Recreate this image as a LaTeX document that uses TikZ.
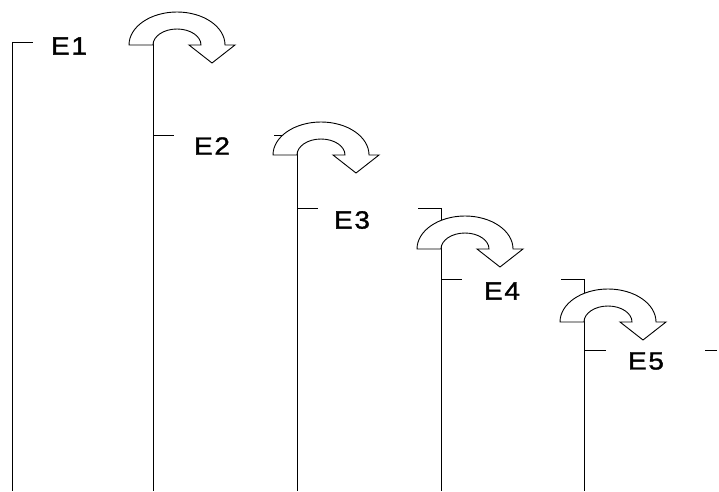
\documentclass[tikz,border=0pt]{standalone}
\usepackage{fontspec}
\setmainfont{Liberation Sans}
\newfontfamily\steplabelfont[FakeBold=1.3]{Liberation Sans}
\begin{document}
\begin{tikzpicture}[x=1pt,y=1pt,
  stair/.style={line width=0.9pt, draw=black},
  arrowbody/.style={draw=black, line width=0.9pt, fill=white, line join=miter},
  lbl/.style={font=\steplabelfont\fontsize{25}{25}\selectfont, inner sep=0pt, xscale=1.12},
  pics/turnarrow/.style={code={
    \filldraw[arrowbody] (-48,0) -- (-24,0)
      arc[start angle=180, end angle=0, x radius=24pt, y radius=16pt]
      -- (12,0) -- (35,-18) -- (58,0) -- (48,0)
      arc[start angle=0, end angle=180, x radius=48pt, y radius=33pt]
      -- cycle;
  }}]
\useasboundingbox (0,0) rectangle (719,491);

% start and end of each step
\coordinate (s1) at (12,449);  \coordinate (e1) at (153,449);
\coordinate (s2) at (153,356); \coordinate (e2) at (297,356);
\coordinate (s3) at (297,283); \coordinate (e3) at (441,283);
\coordinate (s4) at (441,212); \coordinate (e4) at (584,212);
\coordinate (s5) at (584,141); \coordinate (e5) at (717,141);
% foot of each riser
\coordinate (b1) at (12,0);
\coordinate (b2) at (153,0);
\coordinate (b3) at (297,0);
\coordinate (b4) at (441,0);
\coordinate (b5) at (584,0);

% risers and step ticks
\draw[stair] (s1) -- (b1);
\draw[stair] (s1) -- ++(21,0);
\draw[stair] ([xshift=-23pt]e1) -- (e1) -- (b2);
\draw[stair] (s2) -- ++(21,0);
\draw[stair] ([xshift=-23pt]e2) -- (e2) -- (b3);
\draw[stair] (s3) -- ++(21,0);
\draw[stair] ([xshift=-23pt]e3) -- (e3) -- (b4);
\draw[stair] (s4) -- ++(21,0);
\draw[stair] ([xshift=-23pt]e4) -- (e4) -- (b5);
\draw[stair] (s5) -- ++(22,0);
\draw[stair] ([xshift=-12pt]e5) -- (e5);

% turning arrows between steps
\coordinate (a1) at (177,446);
\coordinate (a2) at (321,336);
\coordinate (a3) at (465,242);
\coordinate (a4) at (608,169);
\pic at (a1) {turnarrow};
\pic at (a2) {turnarrow};
\pic at (a3) {turnarrow};
\pic at (a4) {turnarrow};

% step labels
\node[lbl] (l1) at (69,445) {E\kern1.5pt 1};
\node[lbl] (l2) at (212,345) {E\kern1.5pt 2};
\node[lbl] (l3) at (352,271) {E\kern1.5pt 3};
\node[lbl] (l4) at (502,200) {E\kern1.5pt 4};
\node[lbl] (l5) at (646,130) {E\kern1.5pt 5};
\end{tikzpicture}
\end{document}
